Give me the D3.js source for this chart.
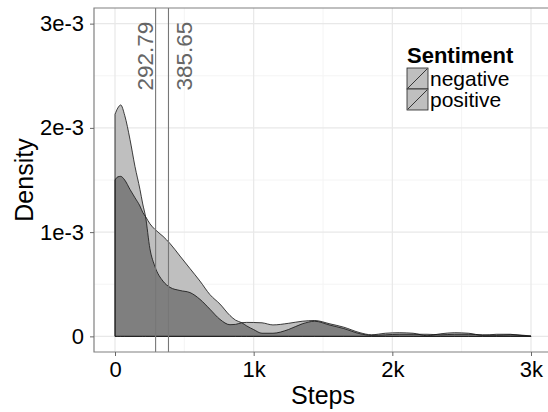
<!DOCTYPE html>
<html>
<head>
<meta charset="utf-8">
<script src="https://cdn.jsdelivr.net/npm/d3@7"></script>
<style>
  body { margin: 0; background: #fff; }
  text { font-family: "Liberation Sans", Arial, sans-serif; }
</style>
</head>
<body>
<div id="chart"></div>
<script>
/** DATA */
// step grid shared by both density curves
const steps = [0, 20, 41, 70, 108, 144, 180, 200, 220, 252,
  288, 346, 397, 469, 541, 613, 685, 757, 829, 870,
  914, 950, 1000, 1060, 1139, 1250, 1350, 1440, 1550, 1650,
  1767, 1850, 1950, 2050, 2150, 2250, 2350, 2450, 2550, 2650,
  2750, 2850, 2950, 3000];

// densities in units of 1e-3
const negative = [2.13, 2.19, 2.22, 2.12, 1.89, 1.63, 1.41, 1.27, 1.15, 0.84,
  0.67, 0.53, 0.47, 0.44, 0.42, 0.355, 0.26, 0.163, 0.112, 0.115,
  0.131, 0.134, 0.133, 0.13, 0.11, 0.125, 0.145, 0.152, 0.12, 0.088,
  0.035, 0.015, 0.03, 0.035, 0.03, 0.006, 0.025, 0.035, 0.03, 0.01,
  0.02, 0.02, 0.006, 0.003];

const positive = [1.50, 1.53, 1.535, 1.50, 1.41, 1.33, 1.25, 1.19, 1.15, 1.08,
  1.026, 0.96, 0.89, 0.77, 0.65, 0.53, 0.40, 0.31, 0.20, 0.155,
  0.131, 0.10, 0.065, 0.03, 0.03, 0.065, 0.12, 0.145, 0.108, 0.075,
  0.025, 0.01, 0.015, 0.02, 0.02, 0.02, 0.015, 0.02, 0.02, 0.015,
  0.01, 0.015, 0.01, 0.003];

const means = [292.79, 385.65];
const groups = ["negative", "positive"];

const xTicks = [0, 1000, 2000, 3000];
const xTickLabels = ["0", "1k", "2k", "3k"];
const xMinor = [500, 1500, 2500];
const yTicks = [0, 1e-3, 2e-3, 3e-3];
const yTickLabels = ["0", "1e-3", "2e-3", "3e-3"];
const yMinor = [0.5e-3, 1.5e-3, 2.5e-3];

/** CONSTANTS */
const width = 548,
  height = 412,
  panel = { left: 94, top: 8, right: 552, bottom: 352 },
  lightFill = "#bfbfbf",
  darkFill = "#7f7f7f";

/** SCALES */
const xScale = d3.scaleLinear()
  .domain([-151.5, 3151.5])
  .range([panel.left, panel.right]);

const yScale = d3.scaleLinear()
  .domain([-0.15e-3, 3.15e-3])
  .range([panel.bottom, panel.top]);

const series = [negative, positive].map(vals =>
  steps.map((s, i) => ({ x: s, y: vals[i] * 1e-3 })));

const area = d3.area()
  .x(d => xScale(d.x))
  .y0(yScale(0))
  .y1(d => yScale(d.y))
  .curve(d3.curveMonotoneX);

/** DRAWING ELEMENTS */
const svg = d3.select("#chart")
  .append("svg")
  .attr("width", width)
  .attr("height", height);

// grid
const grid = svg.append("g");
grid.selectAll(".xminor").data(xMinor).join("line")
  .attr("x1", d => xScale(d)).attr("x2", d => xScale(d))
  .attr("y1", panel.top).attr("y2", panel.bottom)
  .attr("stroke", "#f4f4f4").attr("stroke-width", 1);
grid.selectAll(".yminor").data(yMinor).join("line")
  .attr("x1", panel.left).attr("x2", panel.right)
  .attr("y1", d => yScale(d)).attr("y2", d => yScale(d))
  .attr("stroke", "#f4f4f4").attr("stroke-width", 1);
grid.selectAll(".xmajor").data(xTicks).join("line")
  .attr("x1", d => xScale(d)).attr("x2", d => xScale(d))
  .attr("y1", panel.top).attr("y2", panel.bottom)
  .attr("stroke", "#e8e8e8").attr("stroke-width", 1.2);
grid.selectAll(".ymajor").data(yTicks).join("line")
  .attr("x1", panel.left).attr("x2", panel.right)
  .attr("y1", d => yScale(d)).attr("y2", d => yScale(d))
  .attr("stroke", "#e8e8e8").attr("stroke-width", 1.2);

// densities: light where one curve, dark where both overlap
svg.append("clipPath").attr("id", "clipPos")
  .append("path").attr("d", area(series[1]));

svg.selectAll(".dens").data(series).join("path")
  .attr("d", area)
  .attr("fill", lightFill);

svg.append("path")
  .attr("d", area(series[0]))
  .attr("clip-path", "url(#clipPos)")
  .attr("fill", darkFill);

svg.selectAll(".outline").data(series).join("path")
  .attr("d", area)
  .attr("fill", "none")
  .attr("stroke", "#111")
  .attr("stroke-width", 0.8);

// mean lines and labels
svg.selectAll(".vline").data(means).join("line")
  .attr("x1", d => xScale(d)).attr("x2", d => xScale(d))
  .attr("y1", panel.top).attr("y2", panel.bottom)
  .attr("stroke", "#777").attr("stroke-width", 1.1);

svg.selectAll(".vlabel").data(means).join("text")
  .attr("transform", (d, i) =>
    `translate(${xScale(d) + (i === 0 ? -2.5 : 23.5)}, ${yScale(3e-3) - 2}) rotate(-90)`)
  .attr("text-anchor", "end")
  .attr("font-size", 22.5)
  .attr("fill", "#666")
  .text(d => d.toFixed(2));

// panel border
svg.append("path")
  .attr("d", `M${panel.right},${panel.top}H${panel.left}V${panel.bottom}H${panel.right}`)
  .attr("fill", "none")
  .attr("stroke", "#808080")
  .attr("stroke-width", 1.2);

// axes
const xAxis = d3.axisBottom(xScale)
  .tickValues(xTicks)
  .tickFormat((d, i) => xTickLabels[i])
  .tickSize(4)
  .tickPadding(5);

const yAxis = d3.axisLeft(yScale)
  .tickValues(yTicks)
  .tickFormat((d, i) => yTickLabels[i])
  .tickSize(4)
  .tickPadding(6);

svg.append("g")
  .attr("transform", `translate(0, ${panel.bottom})`)
  .call(xAxis)
  .call(g => g.select(".domain").remove())
  .call(g => g.selectAll("line").attr("stroke", "#666"))
  .call(g => g.selectAll("text").attr("font-size", 22).attr("fill", "#000")
    .attr("font-family", "Liberation Sans, Arial, sans-serif"));

svg.append("g")
  .attr("transform", `translate(${panel.left}, 0)`)
  .call(yAxis)
  .call(g => g.select(".domain").remove())
  .call(g => g.selectAll("line").attr("stroke", "#666"))
  .call(g => g.selectAll("text").attr("font-size", 22).attr("fill", "#000")
    .attr("font-family", "Liberation Sans, Arial, sans-serif"));

// axis titles
svg.append("text")
  .attr("x", (panel.left + panel.right) / 2)
  .attr("y", 404)
  .attr("text-anchor", "middle")
  .attr("font-size", 25)
  .text("Steps");

svg.append("text")
  .attr("transform", `translate(33, ${(panel.top + panel.bottom) / 2}) rotate(-90)`)
  .attr("text-anchor", "middle")
  .attr("font-size", 25)
  .text("Density");

/** LEGEND */
const legend = svg.append("g").attr("transform", "translate(407, 0)");

legend.append("text")
  .attr("x", 0).attr("y", 63)
  .attr("font-size", 22)
  .attr("font-weight", "bold")
  .text("Sentiment");

const key = legend.selectAll(".key").data(groups).join("g")
  .attr("transform", (d, i) => `translate(0, ${68 + i * 21})`);

key.append("rect")
  .attr("width", 21).attr("height", 21)
  .attr("fill", lightFill)
  .attr("stroke", "#222")
  .attr("stroke-width", 0.8);

key.append("line")
  .attr("x1", 1).attr("y1", 20).attr("x2", 20).attr("y2", 1)
  .attr("stroke", "#111").attr("stroke-width", 0.8);

key.append("text")
  .attr("x", 23).attr("y", 18)
  .attr("font-size", 21)
  .text(d => d);
</script>
</body>
</html>
